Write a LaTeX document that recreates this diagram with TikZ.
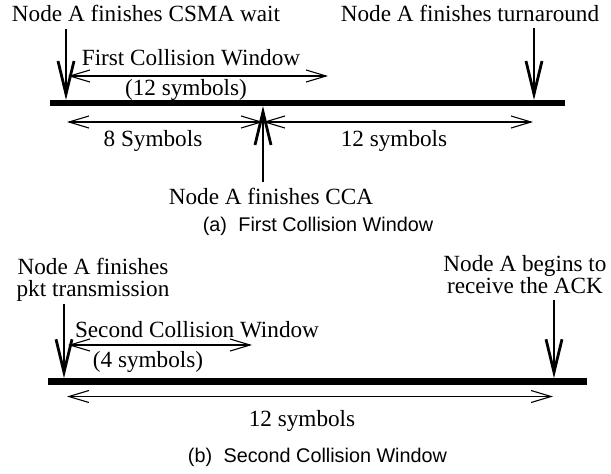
\documentclass[tikz,border=0pt]{standalone}
\usepackage{fontspec}
\setmainfont{Liberation Serif}
\newfontfamily\capfont{Liberation Sans}
\usetikzlibrary{arrows.meta}
\tikzset{
  lbl/.style={inner sep=0pt, anchor=base, font=\fontsize{23.2}{21.5}\selectfont},
  caplbl/.style={inner sep=0pt, anchor=base, font=\capfont\fontsize{19.8}{22}\selectfont},
  timebar/.style={line width=6.5pt},
  bigarrow/.style={line width=2.8pt, -{Straight Barb[length=33pt,width=16pt]}},
  spanarrow/.style={line width=1.1pt, {Straight Barb[length=20pt,width=12pt]}-{Straight Barb[length=20pt,width=12pt]}},
}
\begin{document}
\begin{tikzpicture}[x=1pt,y=-1pt]
\useasboundingbox (0,0) rectangle (611,474);
% ---------- panel (a) ----------
\coordinate (aL) at (50,103);
\coordinate (aR) at (565,103);
\draw[timebar] (aL) -- (aR);
\node[lbl] (csma) at (146,21.5) {Node A finishes CSMA wait};
\node[lbl] (turn) at (470,21.5) {Node A finishes turnaround};
\coordinate (csmaS) at (66,29);
\coordinate (csmaT) at (66,100);
\draw[bigarrow] (csmaS) -- (csmaT);
\coordinate (turnS) at (534,28);
\coordinate (turnT) at (534,100);
\draw[bigarrow] (turnS) -- (turnT);
\node[lbl] (fcw) at (191,65) {First Collision Window};
\coordinate (fcwL) at (68,76);
\coordinate (fcwR) at (328,76);
\draw[spanarrow] (fcwL) -- (fcwR);
\node[lbl] (fcwn) at (186,95.5) {(12 symbols)};
\coordinate (eightL) at (67,122);
\coordinate (mid) at (263,122);
\coordinate (twelveR) at (533,122);
\draw[spanarrow] (eightL) -- (mid);
\draw[spanarrow] (mid) -- (twelveR);
\node[lbl] (eight) at (153,146.5) {8 Symbols};
\node[lbl] (twelve) at (394,146.5) {12 symbols};
\node[lbl] (cca) at (271,204) {Node A finishes CCA};
\coordinate (ccaS) at (263,182);
\coordinate (ccaT) at (263,106);
\draw[bigarrow] (ccaS) -- (ccaT);
\node[caplbl] (capa) at (318,231) {(a)\hspace{0.3em} First Collision Window};
% ---------- panel (b) ----------
\coordinate (bL) at (48,381.5);
\coordinate (bR) at (587,381.5);
\draw[timebar] (bL) -- (bR);
\node[lbl, align=center] (pkt) at (93,296) {Node A finishes\\pkt transmission};
\node[lbl, align=center] (ack) at (525,293) {Node A begins to\\receive the ACK};
\coordinate (pktS) at (64,304);
\coordinate (pktT) at (64,378.2);
\draw[bigarrow] (pktS) -- (pktT);
\coordinate (ackS) at (554,300);
\coordinate (ackT) at (554,378.2);
\draw[bigarrow] (ackS) -- (ackT);
\node[lbl] (scw) at (197,337.5) {Second Collision Window};
\coordinate (scwL) at (68,345);
\coordinate (scwR) at (252,345);
\draw[spanarrow] (scwL) -- (scwR);
\node[lbl] (scwn) at (148,367.5) {(4 symbols)};
\coordinate (allL) at (67,396.5);
\coordinate (allR) at (553,396.5);
\draw[spanarrow] (allL) -- (allR);
\node[lbl] (all) at (302,426) {12 symbols};
\node[caplbl] (capb) at (317.5,462) {(b)\hspace{0.3em} Second Collision Window};
\end{tikzpicture}
\end{document}
